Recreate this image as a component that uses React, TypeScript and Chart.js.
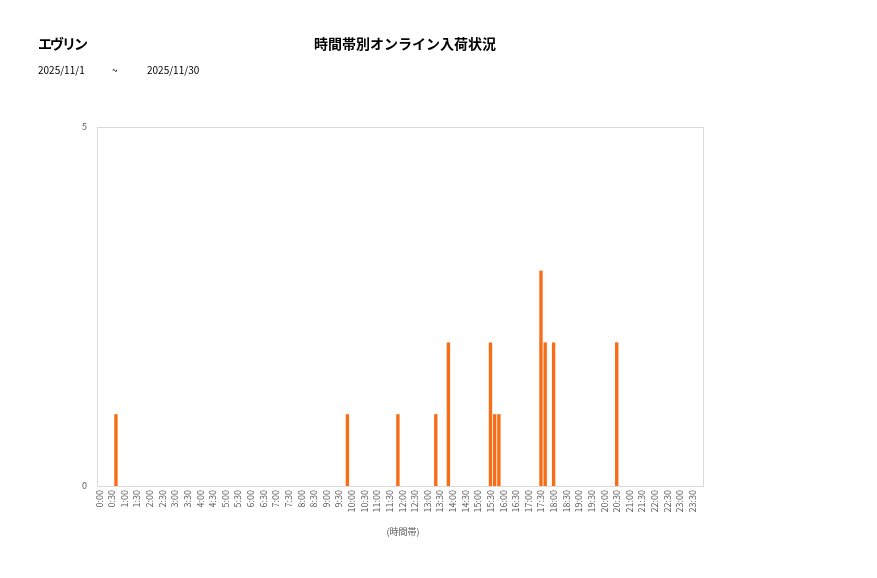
import React, { useEffect, useRef } from "react";
import { Chart, registerables } from "chart.js";

Chart.register(...registerables);

const timeSlots = [
  "0:00","0:10","0:20","0:30","0:40","0:50",
  "1:00","1:10","1:20","1:30","1:40","1:50",
  "2:00","2:10","2:20","2:30","2:40","2:50",
  "3:00","3:10","3:20","3:30","3:40","3:50",
  "4:00","4:10","4:20","4:30","4:40","4:50",
  "5:00","5:10","5:20","5:30","5:40","5:50",
  "6:00","6:10","6:20","6:30","6:40","6:50",
  "7:00","7:10","7:20","7:30","7:40","7:50",
  "8:00","8:10","8:20","8:30","8:40","8:50",
  "9:00","9:10","9:20","9:30","9:40","9:50",
  "10:00","10:10","10:20","10:30","10:40","10:50",
  "11:00","11:10","11:20","11:30","11:40","11:50",
  "12:00","12:10","12:20","12:30","12:40","12:50",
  "13:00","13:10","13:20","13:30","13:40","13:50",
  "14:00","14:10","14:20","14:30","14:40","14:50",
  "15:00","15:10","15:20","15:30","15:40","15:50",
  "16:00","16:10","16:20","16:30","16:40","16:50",
  "17:00","17:10","17:20","17:30","17:40","17:50",
  "18:00","18:10","18:20","18:30","18:40","18:50",
  "19:00","19:10","19:20","19:30","19:40","19:50",
  "20:00","20:10","20:20","20:30","20:40","20:50",
  "21:00","21:10","21:20","21:30","21:40","21:50",
  "22:00","22:10","22:20","22:30","22:40","22:50",
  "23:00","23:10","23:20","23:30","23:40","23:50",
];

const arrivals = [
  0,0,0,0,1,0,
  0,0,0,0,0,0,
  0,0,0,0,0,0,
  0,0,0,0,0,0,
  0,0,0,0,0,0,
  0,0,0,0,0,0,
  0,0,0,0,0,0,
  0,0,0,0,0,0,
  0,0,0,0,0,0,
  0,0,0,0,0,1,
  0,0,0,0,0,0,
  0,0,0,0,0,1,
  0,0,0,0,0,0,
  0,0,1,0,0,2,
  0,0,0,0,0,0,
  0,0,0,2,1,1,
  0,0,0,0,0,0,
  0,0,0,3,2,0,
  2,0,0,0,0,0,
  0,0,0,0,0,0,
  0,0,0,2,0,0,
  0,0,0,0,0,0,
  0,0,0,0,0,0,
  0,0,0,0,0,0,
];

const tickLabels = [
  "0:00","0:30","1:00","1:30","2:00","2:30","3:00","3:30",
  "4:00","4:30","5:00","5:30","6:00","6:30","7:00","7:30",
  "8:00","8:30","9:00","9:30","10:00","10:30","11:00","11:30",
  "12:00","12:30","13:00","13:30","14:00","14:30","15:00","15:30",
  "16:00","16:30","17:00","17:30","18:00","18:30","19:00","19:30",
  "20:00","20:30","21:00","21:30","22:00","22:30","23:00","23:30",
];

const storeName = "エヴリン";
const chartTitle = "時間帯別オンライン入荷状況";
const dateFrom = "2025/11/1";
const dateTo = "2025/11/30";
const xAxisTitle = "(時間帯)";

const FONT = "'Noto Sans CJK JP', 'Noto Sans', sans-serif";

export default function App() {
  const canvasRef = useRef<HTMLCanvasElement | null>(null);

  useEffect(() => {
    const canvas = canvasRef.current;
    if (!canvas) return;

    const framePlugin = {
      id: "frame",
      beforeDatasetsDraw(chart: any) {
        const { ctx, chartArea } = chart;
        ctx.save();
        ctx.strokeStyle = "#d9d9d9";
        ctx.lineWidth = 1;
        ctx.strokeRect(
          Math.round(chartArea.left) + 0.5,
          Math.round(chartArea.top) + 0.5,
          Math.round(chartArea.right - chartArea.left),
          Math.round(chartArea.bottom - chartArea.top)
        );
        ctx.restore();
      },
      afterDraw(chart: any) {
        const { ctx, chartArea } = chart;
        const xs = chart.scales.x;
        ctx.save();
        ctx.font = `9px ${FONT}`;
        ctx.fillStyle = "#595959";
        ctx.textAlign = "right";
        ctx.textBaseline = "middle";
        tickLabels.forEach((lab) => {
          const idx = timeSlots.indexOf(lab);
          const x = xs.getPixelForValue(idx);
          ctx.save();
          ctx.translate(x, chartArea.bottom + 4);
          ctx.rotate(-Math.PI / 2);
          ctx.fillText(lab, 0, 0);
          ctx.restore();
        });
        ctx.restore();
      },
    };

    const chart = new Chart(canvas, {
      type: "bar",
      data: {
        labels: timeSlots,
        datasets: [
          {
            data: arrivals,
            backgroundColor: "#f96c16",
            borderWidth: 0,
            barPercentage: 1,
            categoryPercentage: 0.8,
          },
        ],
      },
      options: {
        responsive: false,
        animation: false,
        layout: { padding: { left: 0, top: 127, right: 174, bottom: 0 } },
        plugins: {
          legend: { display: false },
          tooltip: { enabled: false },
          title: { display: false },
        },
        scales: {
          x: {
            grid: { display: false },
            border: { display: false },
            ticks: { display: false },
            afterFit: (scale: any) => {
              scale.height = 92;
            },
          },
          y: {
            min: 0,
            max: 5,
            grid: { display: false },
            border: { display: false },
            ticks: {
              stepSize: 5,
              padding: 2,
              color: "#595959",
              font: { size: 9, family: FONT },
            },
            afterFit: (scale: any) => {
              scale.width = 97;
            },
          },
        },
      },
      plugins: [framePlugin],
    });

    return () => chart.destroy();
  }, []);

  return (
    <div
      style={{
        position: "absolute",
        left: 0,
        top: 0,
        width: 877,
        height: 578,
        background: "#fff",
        fontFamily: FONT,
        color: "#000",
      }}
    >
      <canvas ref={canvasRef} width={877} height={578} style={{ position: "absolute", left: 0, top: 0 }} />
      <div
        style={{
          position: "absolute",
          left: 38,
          top: 33,
          fontSize: 14,
          fontWeight: 700,
          lineHeight: "20px",
          letterSpacing: "-2px",
        }}
      >
        {storeName}
      </div>
      <div
        style={{
          position: "absolute",
          left: 255,
          width: 300,
          textAlign: "center",
          top: 33,
          fontSize: 14,
          fontWeight: 700,
          lineHeight: "20px",
        }}
      >
        {chartTitle}
      </div>
      <div style={{ position: "absolute", left: 38, top: 63, fontSize: 10, lineHeight: "14px" }}>{dateFrom}</div>
      <div style={{ position: "absolute", left: 112, top: 63, fontSize: 10, lineHeight: "14px" }}>~</div>
      <div style={{ position: "absolute", left: 147, top: 63, fontSize: 10, lineHeight: "14px" }}>{dateTo}</div>
      <div
        style={{
          position: "absolute",
          left: 353,
          width: 100,
          textAlign: "center",
          top: 525,
          fontSize: 9,
          lineHeight: "14px",
          color: "#595959",
        }}
      >
        {xAxisTitle}
      </div>
    </div>
  );
}
